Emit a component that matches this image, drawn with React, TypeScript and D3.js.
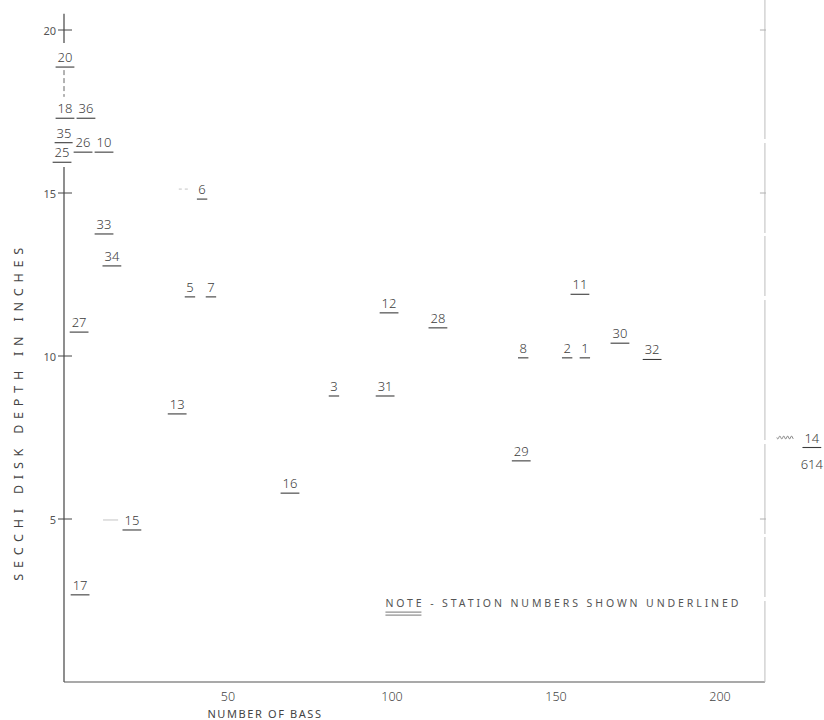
import React from "react";
import * as d3 from "d3";

// station numbers, bass counts and secchi depths
const stationIds = ["20", "18", "36", "35", "25", "26", "10", "6", "33", "34", "5", "7", "27", "13", "15", "17",
  "12", "28", "3", "31", "16", "11", "30", "8", "2", "1", "32", "29"];
const bassCounts = [0.3, 0.3, 6.7, 0, -0.6, 5.8, 12.2, 42.1, 12.2, 14.6, 38.4, 44.8, 4.6, 34.5, 20.7, 4.9,
  99.1, 114, 82.3, 97.9, 68.9, 157.3, 169.5, 140, 153.4, 158.8, 179.3, 139.4];
const secchiDepths = [19.17, 17.6, 17.6, 16.85, 16.25, 16.56, 16.56, 15.12, 14.05, 13.07, 12.12, 12.12, 11.04, 8.53, 4.97, 2.98,
  11.63, 11.17, 9.08, 9.08, 6.1, 12.2, 10.7, 10.25, 10.25, 10.25, 10.2, 7.09];

// faint leader dashes drawn before a few labels: [station, from bass, to bass]
const leaders: [string, number, number][] = [["6", 35, 37.8], ["15", 11.9, 16.5]];

// station 14 is off the scale (614 bass)
const offScale = { id: "14", bass: 614, secchi: 7.5, shownAt: 228 };

const yTicks = [5, 10, 15, 20];
const xTicks = [50, 100, 150, 200];
const rightTicks = [5, 15, 20];

const W = 824;
const H = 720;
const ink = "#3c3c3c";
const font = "'Noto Sans', 'DejaVu Sans', sans-serif";

const x = d3.scaleLinear().domain([0, 200]).range([64, 720]);
const y = d3.scaleLinear().domain([0, 20]).range([682, 30]);
const xRight = 213.7;

function Label({ text, cx, cy }: { text: string; cx: number; cy: number }) {
  const w = text.length * 8.4 + 2;
  return (
    <g>
      <rect x={cx - w / 2 - 1} y={cy - 8} width={w + 2} height={19} fill="#fff" />
      <text x={cx} y={cy} textAnchor="middle" dominantBaseline="central" fontSize={13}
        fontFamily={font} fontWeight={300} fill={ink}>{text}</text>
      <line x1={cx - w / 2} x2={cx + w / 2} y1={cy + 10} y2={cy + 10} stroke={ink} strokeWidth={1.1} />
    </g>
  );
}

export default function App() {
  const stations = stationIds.map((id, i) => ({ id, bass: bassCounts[i], secchi: secchiDepths[i] }));

  // wavy break line before station 14
  const waveX0 = x(offScale.shownAt) - 35;
  const wave = d3.range(0, 17, 0.5).map((t) => [waveX0 + t, y(offScale.secchi) + Math.sin(t * 1.6) * 1.5] as [number, number]);

  return (
    <svg width={W} height={H} style={{ position: "absolute", left: 0, top: 0, background: "#fff" }}>
      {/* left axis, broken where the stacked labels sit */}
      <line x1={x(0)} x2={x(0)} y1={y(20.5)} y2={y(19.6)} stroke="#444" strokeWidth={1.2} />
      <line x1={x(0)} x2={x(0)} y1={y(18.77)} y2={y(17.95)} stroke="#666" strokeWidth={1} strokeDasharray="5 3" />
      <line x1={x(0)} x2={x(0)} y1={y(15.8)} y2={y(0)} stroke="#444" strokeWidth={1.2} />
      {yTicks.map((t) => (
        <g key={t}>
          <line x1={x(0) - 6} x2={x(0) + 8} y1={y(t)} y2={y(t)} stroke="#444" strokeWidth={1} />
          <text x={x(0) - 8} y={y(t)} textAnchor="end" dominantBaseline="central" fontSize={11}
            fontFamily={font} fill="#555">{t}</text>
        </g>
      ))}

      {/* bottom axis */}
      <line x1={x(0)} x2={x(xRight)} y1={y(0)} y2={y(0)} stroke="#555" strokeWidth={1.2} />
      {xTicks.map((t) => (
        <text key={t} x={x(t)} y={y(0) + 14} textAnchor="middle" dominantBaseline="central" fontSize={12.5}
          fontFamily={font} fontWeight={300} fill="#444">{t}</text>
      ))}

      {/* faint right frame */}
      <line x1={x(xRight)} x2={x(xRight)} y1={y(20.95)} y2={y(0)} stroke="#bdbdbd" strokeWidth={1}
        strokeDasharray="140 4 90 3 60 4" />
      {rightTicks.map((t) => (
        <line key={t} x1={x(xRight) - 5} x2={x(xRight) + 1} y1={y(t)} y2={y(t)} stroke="#b0b0b0" strokeWidth={1} />
      ))}

      {leaders.map(([id, a, b]) => {
        const s = stations.find((d) => d.id === id)!;
        return <line key={id} x1={x(a)} x2={x(b)} y1={y(s.secchi)} y2={y(s.secchi)} stroke="#c4c4c4"
          strokeWidth={1} strokeDasharray={id === "6" ? "3 3" : undefined} />;
      })}

      {stations.map((d) => (
        <Label key={d.id} text={d.id} cx={x(d.bass)} cy={y(d.secchi)} />
      ))}

      {/* off-scale station */}
      <path d={d3.line()(wave) ?? ""} fill="none" stroke="#888" strokeWidth={1} />
      <Label text={offScale.id} cx={x(offScale.shownAt)} cy={y(offScale.secchi)} />
      <text x={x(offScale.shownAt)} y={y(offScale.secchi) + 26} textAnchor="middle" dominantBaseline="central"
        fontSize={13} fontFamily={font} fontWeight={300} fill={ink}>{offScale.bass}</text>

      {/* note */}
      <text x={x(98)} y={y(2.42)} dominantBaseline="central" fontSize={10.5} letterSpacing={2.9}
        fontFamily={font} fill="#555">NOTE - STATION NUMBERS SHOWN UNDERLINED</text>
      <line x1={x(98)} x2={x(98) + 36} y1={y(2.42) + 9} y2={y(2.42) + 9} stroke="#666" strokeWidth={0.9} />
      <line x1={x(98)} x2={x(98) + 36} y1={y(2.42) + 12} y2={y(2.42) + 12} stroke="#666" strokeWidth={0.9} />

      {/* axis titles */}
      <text transform={`translate(18, ${y(8.3)}) rotate(-90)`} textAnchor="middle" dominantBaseline="central"
        fontSize={12.5} letterSpacing={5.8} fontFamily={font} fill="#444">SECCHI DISK DEPTH IN INCHES</text>
      <text x={265} y={713} textAnchor="middle" dominantBaseline="central" fontSize={11} letterSpacing={1.6}
        fontFamily={font} fill="#444">NUMBER OF BASS</text>
    </svg>
  );
}
